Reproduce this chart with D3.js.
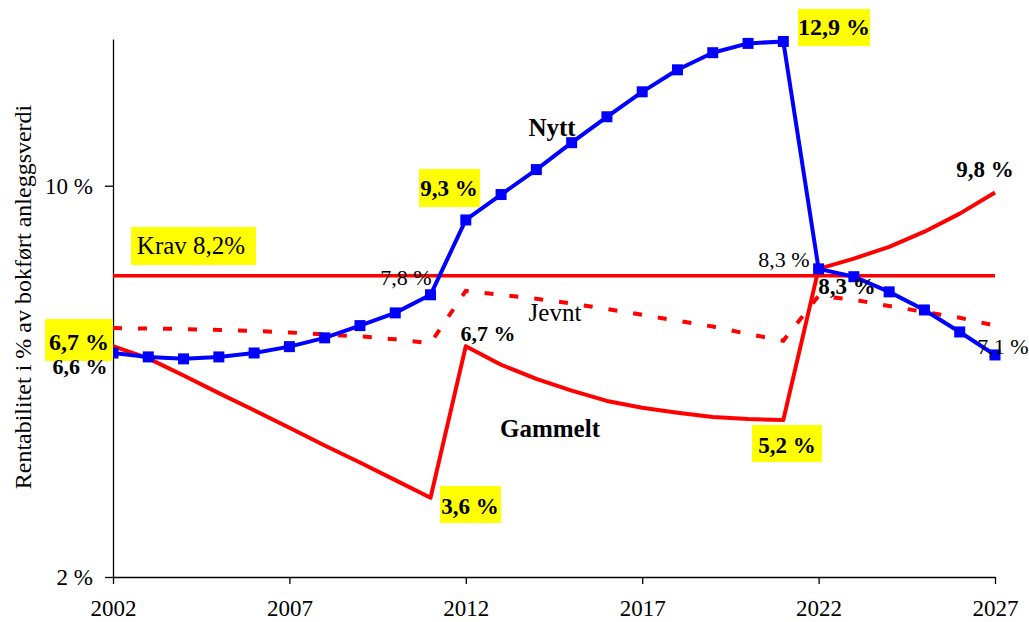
<!DOCTYPE html>
<html>
<head>
<meta charset="utf-8">
<script src="https://cdn.jsdelivr.net/npm/d3@7"></script>
<style>
  body { margin: 0; background: #fff; }
  text { font-family: "Liberation Serif", "Times New Roman", serif; }
</style>
</head>
<body>
<div id="chart"></div>
<script>
// data
let years = d3.range(2002, 2028);
let nytt = [6.58, 6.50, 6.46, 6.50, 6.58, 6.71, 6.89, 7.14, 7.40, 7.77,
  9.30, 9.82, 10.33, 10.88, 11.41, 11.92, 12.37, 12.72, 12.91, 12.95,
  8.30, 8.14, 7.83, 7.46, 7.01, 6.54];
let gammelt = [6.72, 6.47, 6.12, 5.76, 5.41, 5.05, 4.69, 4.34, 3.98, 3.62,
  6.72, 6.34, 6.05, 5.81, 5.60, 5.46, 5.36, 5.27, 5.23, 5.21,
  8.30, 8.51, 8.75, 9.06, 9.43, 9.86];
let jevnt = [7.09, 7.08, 7.07, 7.05, 7.03, 7.00, 6.96, 6.92, 6.86, 6.78,
  7.85, 7.77, 7.69, 7.59, 7.48, 7.36, 7.24, 7.12, 6.97, 6.83,
  7.75, 7.67, 7.54, 7.42, 7.30, 7.14];
let krav = 8.16;
let xTicks = [2002, 2007, 2012, 2017, 2022, 2027];
let yTicks = [2, 10];

// svg size
let svgWidth = 1029;
let svgHeight = 622;

let svg = d3.select('#chart')
  .append('svg')
  .attr('width', svgWidth)
  .attr('height', svgHeight);

// scales
let x = d3.scaleLinear()
  .domain([2002, 2027])
  .range([113, 995]);

let y = d3.scaleLinear()
  .domain([2, 13])
  .range([577, 39]);

// axes
let xAxis = svg.append('g')
  .attr('transform', `translate(0, ${y(2)})`)
  .call(d3.axisBottom(x)
    .tickValues(xTicks)
    .tickFormat(d3.format('d'))
    .tickSize(7)
    .tickSizeOuter(0)
    .tickPadding(16));

let yAxis = svg.append('g')
  .attr('transform', `translate(${x(2002)}, 0)`)
  .call(d3.axisLeft(y)
    .tickValues(yTicks)
    .tickFormat(d => d + ' %')
    .tickSize(8)
    .tickSizeOuter(0)
    .tickPadding(12));

svg.selectAll('.domain, .tick line')
  .attr('stroke', '#000')
  .attr('stroke-width', 1.3);

svg.selectAll('.tick text')
  .attr('font-size', 23)
  .attr('font-family', '"Liberation Serif", serif')
  .attr('fill', '#000');

// y title
svg.append('text')
  .attr('transform', `translate(31, 297) rotate(-90)`)
  .attr('text-anchor', 'middle')
  .attr('font-size', 24)
  .text('Rentabilitet i % av bokført anleggsverdi');

// krav line
svg.append('line')
  .attr('x1', x(2002))
  .attr('x2', x(2027))
  .attr('y1', y(krav))
  .attr('y2', y(krav))
  .attr('stroke', '#ff0000')
  .attr('stroke-width', 3.5);

let line = d3.line()
  .x((d, i) => x(years[i]))
  .y(d => y(d));

// jevnt dashed
svg.append('path')
  .datum(jevnt)
  .attr('d', line)
  .attr('fill', 'none')
  .attr('stroke', '#ff0000')
  .attr('stroke-width', 4)
  .attr('stroke-dasharray', '9,16');

// gammelt
svg.append('path')
  .datum(gammelt)
  .attr('d', line)
  .attr('fill', 'none')
  .attr('stroke', '#ff0000')
  .attr('stroke-width', 4)
  .attr('stroke-linejoin', 'round');

// nytt with square markers
svg.append('path')
  .datum(nytt)
  .attr('d', line)
  .attr('fill', 'none')
  .attr('stroke', '#0000ff')
  .attr('stroke-width', 4)
  .attr('stroke-linejoin', 'round');

svg.selectAll('.marker')
  .data(nytt)
  .enter()
  .append('rect')
  .classed('marker', true)
  .attr('x', (d, i) => x(years[i]) - 5.5)
  .attr('y', d => y(d) - 5.5)
  .attr('width', 11)
  .attr('height', 11)
  .attr('fill', '#0000ff');

// labels: [text, x, baseline, size, bold, box]
let labels = [
  ['6,7 %', 79, 350, 24, true, [45, 319, 68, 42]],
  ['6,6 %', 80, 374, 22, true, null],
  ['7,8 %', 406, 285, 22, false, null],
  ['9,3 %', 449, 196, 23, true, [419, 169, 61, 38]],
  ['6,7 %', 488, 341, 22, true, null],
  ['3,6 %', 470, 514, 23, true, [440, 486, 61, 37]],
  ['12,9 %', 834, 35, 24, true, [798, 9, 72, 37]],
  ['5,2 %', 787, 453, 23, true, [752, 425, 70, 37]],
  ['8,3 %', 784, 267, 22, false, null],
  ['8,3 %', 847, 294, 23, true, null],
  ['7,1 %', 1003, 354, 22, false, null],
  ['9,8 %', 985, 177, 23, true, null],
  ['Nytt', 552, 136, 25, true, null],
  ['Jevnt', 555, 321, 25, false, null],
  ['Gammelt', 550, 437, 25, true, null],
  ['Krav 8,2%', 191, 254, 25, false, [131, 227, 125, 38]]
];

let labelGroup = svg.append('g');

labels.forEach(function (l) {
  if (l[5]) {
    labelGroup.append('rect')
      .attr('x', l[5][0])
      .attr('y', l[5][1])
      .attr('width', l[5][2])
      .attr('height', l[5][3])
      .attr('fill', '#ffff00');
  }
  labelGroup.append('text')
    .attr('x', l[1])
    .attr('y', l[2])
    .attr('text-anchor', 'middle')
    .attr('font-size', l[3])
    .attr('font-weight', l[4] ? 'bold' : 'normal')
    .text(l[0]);
});
</script>
</body>
</html>
